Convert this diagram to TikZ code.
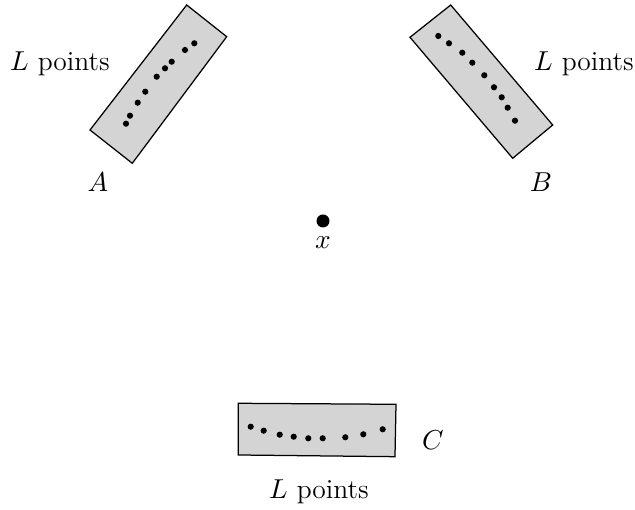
\documentclass[tikz,border=0pt]{standalone}
\begin{document}
\begin{tikzpicture}[x=0.4pt,y=-0.4pt,
  box/.style={draw=black,fill=black!17,line width=0.5pt},
  pt/.style={fill=black},
  lab/.style={inner sep=0pt,font=\fontsize{11}{13}\selectfont}]
\useasboundingbox (0,0) rectangle (635,510);
% box A
\draw[box] (186.7,5) -- (226.7,36.7) -- (132.3,163.3) -- (90,130) -- cycle;
\foreach \p in {(194.3,43.3),(185,50),(171.7,61.7),(165,68.3),(156.7,76.7),(145.3,91.7),(137.7,102.7),(130,115.7),(126,123.7)}
  \fill[pt] \p circle[radius=3.1];
% box B
\draw[box] (450.7,5) -- (552.7,125) -- (512.7,158.3) -- (410,37.3) -- cycle;
\foreach \p in {(438.3,36),(449,43.3),(462.3,52.7),(472.3,62.7),(484.3,75.3),(494,87.3),(501.7,97.3),(507.7,107.7),(515,120.7)}
  \fill[pt] \p circle[radius=3.1];
% box C
\draw[box] (238.3,403.3) -- (396,404.3) -- (395,456.7) -- (238.3,455) -- cycle;
\foreach \p in {(250.7,426.7),(263.7,430.7),(279.7,434.7),(293.7,436.7),(308.3,438.3),(322.7,438.3),(345.3,437.3),(363.3,434.3),(382.7,429.3)}
  \fill[pt] \p circle[radius=3.1];
% centre point
\fill[pt] (323,221) coordinate (xc) circle[radius=6.5];
\node[lab] (xl) at (323,243) {$x$};
% labels
\node[lab] (la) at (60,64) {$L$ points};
\node[lab] (lb) at (584,64) {$L$ points};
\node[lab] (lc) at (319,492) {$L$ points};
\node[lab] (A) at (98,182) {$A$};
\node[lab] (B) at (541,182) {$B$};
\node[lab] (C) at (433,440) {$C$};
\end{tikzpicture}
\end{document}
